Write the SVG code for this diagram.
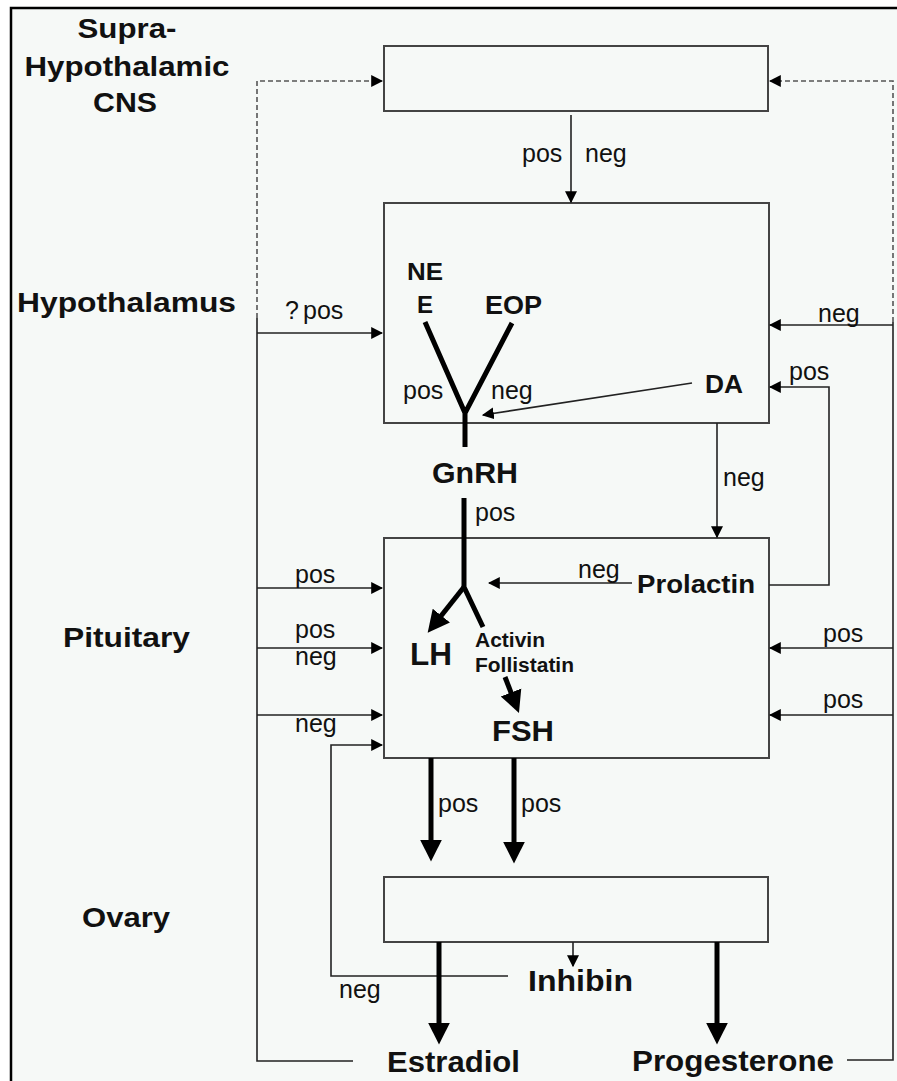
<svg xmlns="http://www.w3.org/2000/svg" width="897" height="1081" viewBox="0 0 897 1081">
<style>
.box{fill:none;stroke:#444;stroke-width:2}
.ln{fill:none;stroke:#222;stroke-width:1.6}
.ds{fill:none;stroke:#555;stroke-width:1.6;stroke-dasharray:5,3}
.tk{fill:none;stroke:#000;stroke-width:5}
.s{font-family:"Liberation Sans",Arial,sans-serif;font-size:25px;fill:#111}
.b{font-family:"Liberation Sans",Arial,sans-serif;font-weight:bold;fill:#111}
</style>
<defs>
<marker id="a" viewBox="0 0 10 10" refX="9" refY="5" markerWidth="12" markerHeight="12" markerUnits="userSpaceOnUse" orient="auto"><path d="M0,0L10,5L0,10z" fill="#000"/></marker>
<marker id="A" viewBox="0 0 10 10" refX="2" refY="5" markerWidth="22" markerHeight="24" markerUnits="userSpaceOnUse" orient="auto"><path d="M0,0L10,5L0,10z" fill="#000"/></marker>
</defs>
<rect x="0" y="0" width="897" height="1081" fill="#fff"/>
<rect x="11" y="8" width="886" height="1073" fill="#f6f9f7"/>
<path d="M11,1081V8H897" fill="none" stroke="#000" stroke-width="2.5"/>

<g id="labels">
<text class="b" x="127" y="38" font-size="28" text-anchor="middle" textLength="99" lengthAdjust="spacingAndGlyphs">Supra-</text>
<text class="b" x="127" y="76" font-size="28" text-anchor="middle" textLength="205" lengthAdjust="spacingAndGlyphs">Hypothalamic</text>
<text class="b" x="125" y="112" font-size="28" text-anchor="middle" textLength="64" lengthAdjust="spacingAndGlyphs">CNS</text>
<text class="b" x="17" y="312" font-size="28" textLength="219" lengthAdjust="spacingAndGlyphs">Hypothalamus</text>
<text class="b" x="63" y="647" font-size="28" textLength="127" lengthAdjust="spacingAndGlyphs">Pituitary</text>
<text class="b" x="82" y="927" font-size="28" textLength="88" lengthAdjust="spacingAndGlyphs">Ovary</text>
</g>

<g id="supra"><rect class="box" x="384" y="46" width="384" height="65"/></g>
<g id="hypothalamus">
<rect class="box" x="384" y="203" width="385" height="220"/>
<text class="b" x="407" y="280" font-size="24" textLength="36" lengthAdjust="spacingAndGlyphs">NE</text>
<text class="b" x="417" y="313" font-size="24">E</text>
<text class="b" x="485" y="314" font-size="25" textLength="57" lengthAdjust="spacingAndGlyphs">EOP</text>
<text class="b" x="705" y="393" font-size="25" textLength="38" lengthAdjust="spacingAndGlyphs">DA</text>
<path class="tk" d="M425,322L465,413M512,323L465,413V447"/>
</g>
<g id="gnrh">
<text class="b" x="432" y="483" font-size="30" textLength="86" lengthAdjust="spacingAndGlyphs">GnRH</text>
</g>
<g id="pituitary">
<rect class="box" x="384" y="538" width="385" height="220"/>
<text class="b" x="637" y="593" font-size="26" textLength="118" lengthAdjust="spacingAndGlyphs">Prolactin</text>
<text class="b" x="410" y="665" font-size="32" textLength="42" lengthAdjust="spacingAndGlyphs">LH</text>
<text class="b" x="475" y="647" font-size="20" textLength="70" lengthAdjust="spacingAndGlyphs">Activin</text>
<text class="b" x="475" y="672" font-size="20" textLength="99" lengthAdjust="spacingAndGlyphs">Follistatin</text>
<text class="b" x="492" y="741" font-size="30" textLength="62" lengthAdjust="spacingAndGlyphs">FSH</text>
</g>
<g id="ovary">
<rect class="box" x="384" y="877" width="384" height="65"/>
<text class="b" x="528" y="991" font-size="29" textLength="105" lengthAdjust="spacingAndGlyphs">Inhibin</text>
<text class="b" x="387" y="1072" font-size="30" textLength="133" lengthAdjust="spacingAndGlyphs">Estradiol</text>
<text class="b" x="632" y="1071" font-size="30" textLength="202" lengthAdjust="spacingAndGlyphs">Progesterone</text>
</g>

<g id="connectors">
<path class="ds" d="M257,318V81H382" marker-end="url(#a)"/>
<path class="ds" d="M893,322V81H770" marker-end="url(#a)"/>
<path class="ln" d="M257,318V1061H353"/>
<path class="ln" d="M893,322V1060H847"/>
<path class="ln" d="M571,115V202" marker-end="url(#a)"/>
<path class="ln" d="M257,333H382" marker-end="url(#a)"/>
<path class="ln" d="M893,325H770" marker-end="url(#a)"/>
<path class="ln" d="M692,383L483,415" marker-end="url(#a)"/>
<path class="ln" d="M769,585H829V387H770" marker-end="url(#a)"/>
<path class="ln" d="M717,423V537" marker-end="url(#a)"/>
<path class="ln" d="M632,583H489" marker-end="url(#a)"/>
<path class="ln" d="M257,588H382" marker-end="url(#a)"/>
<path class="ln" d="M257,648H382" marker-end="url(#a)"/>
<path class="ln" d="M257,715H382" marker-end="url(#a)"/>
<path class="ln" d="M893,648H770" marker-end="url(#a)"/>
<path class="ln" d="M893,715H770" marker-end="url(#a)"/>
<path class="ln" d="M508,976H331V745H382" marker-end="url(#a)"/>
<path class="ln" d="M573,942V966" marker-end="url(#a)"/>
<path class="tk" d="M464,498V587L483,627"/>
<path class="tk" d="M464,587L438.6,619" marker-end="url(#A)"/>
<path class="tk" d="M505,677L512.6,696.6" marker-end="url(#A)"/>
<path class="tk" d="M431,758V844" marker-end="url(#A)"/>
<path class="tk" d="M514,758V846" marker-end="url(#A)"/>
<path class="tk" d="M439,942V1027" marker-end="url(#A)"/>
<path class="tk" d="M717,942V1027" marker-end="url(#A)"/>
</g>

<g id="connector-labels">
<text class="s" x="522" y="162">pos</text>
<text class="s" x="585" y="162">neg</text>
<text class="s" x="285" y="319">?<tspan x="303">pos</tspan></text>
<text class="s" x="403" y="399">pos</text>
<text class="s" x="491" y="399">neg</text>
<text class="s" x="818" y="322">neg</text>
<text class="s" x="789" y="380">pos</text>
<text class="s" x="723" y="486">neg</text>
<text class="s" x="475" y="521">pos</text>
<text class="s" x="295" y="583">pos</text>
<text class="s" x="578" y="578">neg</text>
<text class="s" x="295" y="638">pos</text>
<text class="s" x="295" y="665">neg</text>
<text class="s" x="295" y="732">neg</text>
<text class="s" x="823" y="642">pos</text>
<text class="s" x="823" y="708">pos</text>
<text class="s" x="438" y="812">pos</text>
<text class="s" x="521" y="812">pos</text>
<text class="s" x="339" y="998">neg</text>
</g>
</svg>
